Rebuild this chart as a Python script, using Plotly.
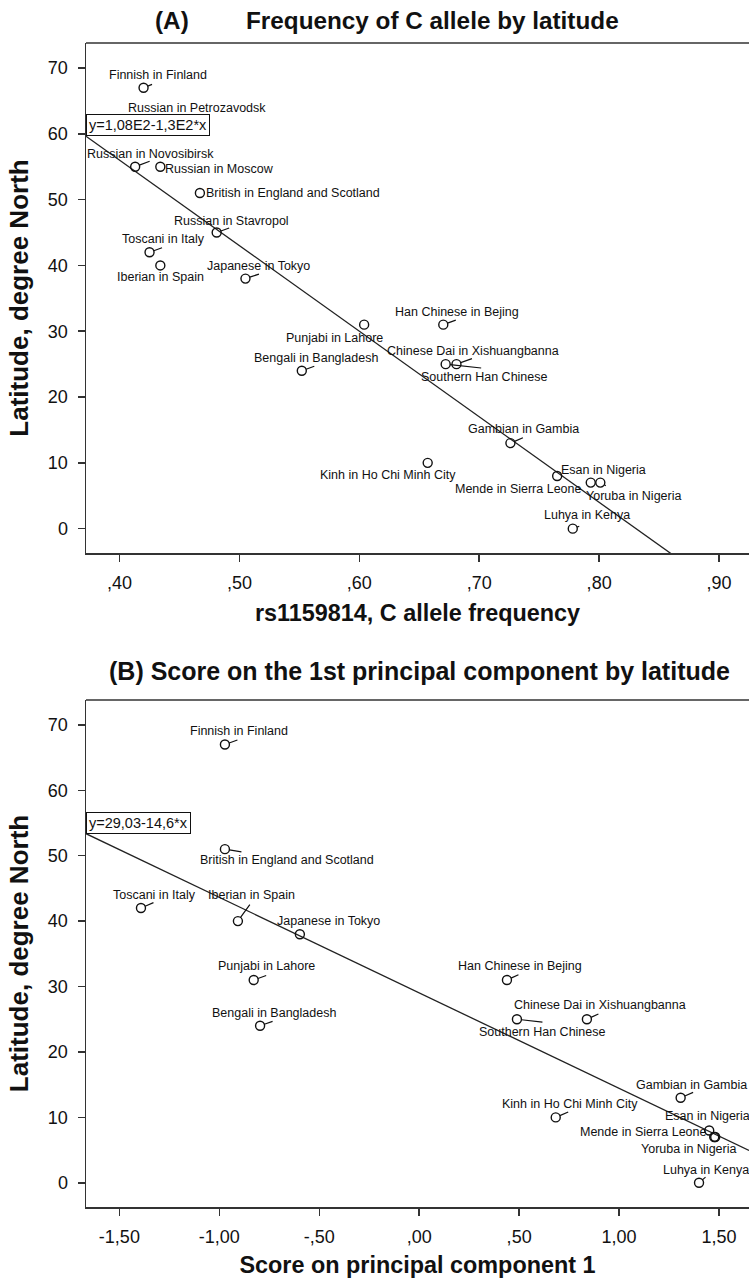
import numpy as np
import plotly.graph_objects as go

# ---------------- data ----------------
pops_a = ["Finnish in Finland", "Russian in Petrozavodsk", "Russian in Novosibirsk", "Russian in Moscow",
          "British in England and Scotland", "Russian in Stavropol", "Toscani in Italy", "Iberian in Spain",
          "Japanese in Tokyo", "Punjabi in Lahore", "Han Chinese in Bejing", "Bengali in Bangladesh",
          "Chinese Dai in Xishuangbanna", "Southern Han Chinese", "Gambian in Gambia",
          "Kinh in Ho Chi Minh City", "Mende in Sierra Leone", "Esan in Nigeria", "Yoruba in Nigeria",
          "Luhya in Kenya"]
lat_a = [67, 62, 55, 55, 51, 45, 42, 40, 38, 31, 31, 24, 25, 25, 13, 10, 8, 7, 7, 0]
freq_c = [0.420, 0.442, 0.413, 0.434, 0.467, 0.481, 0.425, 0.434, 0.505, 0.604, 0.670, 0.552,
          0.681, 0.672, 0.726, 0.657, 0.765, 0.793, 0.801, 0.778]

pops_b = ["Finnish in Finland", "British in England and Scotland", "Toscani in Italy", "Iberian in Spain",
          "Japanese in Tokyo", "Punjabi in Lahore", "Han Chinese in Bejing", "Bengali in Bangladesh",
          "Chinese Dai in Xishuangbanna", "Southern Han Chinese", "Gambian in Gambia",
          "Kinh in Ho Chi Minh City", "Mende in Sierra Leone", "Esan in Nigeria", "Yoruba in Nigeria",
          "Luhya in Kenya"]
lat_b = [67, 51, 42, 40, 38, 31, 31, 24, 25, 25, 13, 10, 8, 7, 7, 0]
pc1 = [-0.972, -0.972, -1.392, -0.907, -0.597, -0.828, 0.439, -0.796, 0.839, 0.489, 1.308,
       0.683, 1.451, 1.476, 1.481, 1.400]

fit_a = (108.0, -130.0)     # intercept, slope (as printed)
fit_b = (29.03, -14.6)
eq_a = "y=1,08E2-1,3E2*x"
eq_b = "y=29,03-14,6*x"

xa_tickvals = [0.40, 0.50, 0.60, 0.70, 0.80, 0.90]
xa_ticktext = [",40", ",50", ",60", ",70", ",80", ",90"]
xb_tickvals = [-1.5, -1.0, -0.5, 0.0, 0.5, 1.0, 1.5]
xb_ticktext = ["-1,50", "-1,00", "-,50", ",00", ",50", "1,00", "1,50"]
y_tickvals = [0, 10, 20, 30, 40, 50, 60, 70]
y_ticktext = ["0", "10", "20", "30", "40", "50", "60", "70"]

# ---------------- label placement (pixel offsets: dx, dy(down), anchor, leader dx, leader dy) ----------------
place_a = {
    "Finnish in Finland": (14, -13, "center", 10, -4),
    "Russian in Petrozavodsk": (27, -13, "center", None, None),
    "Russian in Novosibirsk": (15, -13, "center", 16, -6),
    "Russian in Moscow": (3, 2, "left", None, None),
    "British in England and Scotland": (4, 0, "left", None, None),
    "Russian in Stavropol": (15, -12, "center", 14, -5),
    "Toscani in Italy": (14, -13, "center", 14, -5),
    "Iberian in Spain": (0, 12, "center", None, None),
    "Japanese in Tokyo": (13, -13, "center", 15, -5),
    "Punjabi in Lahore": (-30, 13, "center", None, None),
    "Han Chinese in Bejing": (14, -13, "center", 14, -5),
    "Bengali in Bangladesh": (14, -13, "center", 14, -5),
    "Chinese Dai in Xishuangbanna": (17, -13, "center", 17, -6),
    "Southern Han Chinese": (39, 13, "center", 37, 4),
    "Gambian in Gambia": (13, -14, "center", 14, -6),
    "Kinh in Ho Chi Minh City": (-40, 12, "center", None, None),
    "Mende in Sierra Leone": (-39, 13, "center", None, None),
    "Esan in Nigeria": (13, -13, "center", None, None),
    "Yoruba in Nigeria": (33, 13, "center", 7, 4),
    "Luhya in Kenya": (14, -14, "center", 8, -3),
}
place_b = {
    "Finnish in Finland": (14, -13, "center", 14, -5),
    "British in England and Scotland": (62, 11, "center", 18, 3),
    "Toscani in Italy": (14, -13, "center", 14, -6),
    "Iberian in Spain": (14, -26, "center", 13, -18),
    "Japanese in Tokyo": (29, -13, "center", None, None),
    "Punjabi in Lahore": (13, -14, "center", 14, -5),
    "Han Chinese in Bejing": (13, -14, "center", 13, -6),
    "Bengali in Bangladesh": (14, -13, "center", 14, -5),
    "Chinese Dai in Xishuangbanna": (13, -14, "center", 13, -6),
    "Southern Han Chinese": (26, 13, "center", 27, 3),
    "Gambian in Gambia": (11, -13, "center", 14, -6),
    "Kinh in Ho Chi Minh City": (14, -13, "center", 14, -6),
    "Mende in Sierra Leone": (-66, 2, "center", None, None),
    "Esan in Nigeria": (-7, -21, "center", None, None),
    "Yoruba in Nigeria": (-27, 12, "center", None, None),
    "Luhya in Kenya": (7, -13, "center", 8, -7),
}

FONT = "Liberation Sans, Arial, sans-serif"
W, H = 749, 1278
ML, MR, MT, MB = 86, 0, 43, 71
PW, PH = W - ML - MR, H - MT - MB
xa_range = [0.372, 0.925]
xb_range = [-1.667, 1.650]
y_range = [-3.7, 73.8]


def paper_x(px):
    return (px - ML) / PW


def paper_y(py):
    return (H - MB - py) / PH


dom_a = [paper_y(553), 1.0]
dom_b = [0.0, paper_y(700)]

fig = go.Figure()

# regression lines
for (xr, fit, xref, yref) in [(xa_range, fit_a, "x", "y"), (xb_range, fit_b, "x2", "y2")]:
    xl = np.array(xr)
    yl = fit[0] + fit[1] * xl
    fig.add_trace(go.Scatter(x=xl, y=yl, mode="lines", xaxis=xref, yaxis=yref,
                             line=dict(color="#222222", width=1.3), showlegend=False, hoverinfo="skip"))

# points
fig.add_trace(go.Scatter(x=freq_c, y=lat_a, mode="markers", xaxis="x", yaxis="y", text=pops_a,
                         marker=dict(symbol="circle-open", size=9, color="#111111", line=dict(width=1.4)),
                         showlegend=False))
fig.add_trace(go.Scatter(x=pc1, y=lat_b, mode="markers", xaxis="x2", yaxis="y2", text=pops_b,
                         marker=dict(symbol="circle-open", size=9, color="#111111", line=dict(width=1.4)),
                         showlegend=False))

annotations = []


def add_labels(names, xs, ys, place, xref, yref):
    for n, xv, yv in zip(names, xs, ys):
        dx, dy, anc, lx, ly = place[n]
        annotations.append(dict(x=xv, y=yv, xref=xref, yref=yref, text=n, showarrow=False,
                                xanchor=anc, yanchor="middle", xshift=dx, yshift=-dy,
                                font=dict(family=FONT, size=12.5, color="#111111")))
        if lx is not None:
            annotations.append(dict(x=xv, y=yv, xref=xref, yref=yref, text="", showarrow=True,
                                    arrowhead=0, arrowwidth=1.2, arrowcolor="#111111",
                                    ax=lx, ay=ly, standoff=4.5))


add_labels(pops_a, freq_c, lat_a, place_a, "x", "y")
add_labels(pops_b, pc1, lat_b, place_b, "x2", "y2")

# equation boxes
for (xr, fit, txt, xref, yref) in [(xa_range, fit_a, eq_a, "x", "y"), (xb_range, fit_b, eq_b, "x2", "y2")]:
    x0 = xr[0]
    annotations.append(dict(x=x0, y=fit[0] + fit[1] * x0, xref=xref, yref=yref, text=txt,
                            showarrow=False, xanchor="left", yanchor="bottom", bgcolor="white",
                            bordercolor="#111111", borderwidth=1, borderpad=2,
                            font=dict(family=FONT, size=14.5, color="#111111")))

# titles
tfont_a = dict(family=FONT, size=24.3, color="#111111")
tfont_b = dict(family=FONT, size=25, color="#111111")
annotations.append(dict(x=paper_x(172), y=paper_y(20), xref="paper", yref="paper", text="<b>(A)</b>",
                        showarrow=False, xanchor="center", yanchor="middle", font=tfont_a))
annotations.append(dict(x=paper_x(432), y=paper_y(20), xref="paper", yref="paper",
                        text="<b>Frequency of C allele by latitude</b>",
                        showarrow=False, xanchor="center", yanchor="middle", font=tfont_a))
annotations.append(dict(x=paper_x(419), y=paper_y(671), xref="paper", yref="paper",
                        text="<b>(B) Score on the 1st principal component by latitude</b>",
                        showarrow=False, xanchor="center", yanchor="middle", font=tfont_b))

axis_common = dict(showline=True, linecolor="#333333", linewidth=1.5, ticks="outside", ticklen=7,
                   tickwidth=1.5, tickcolor="#333333", showgrid=False, zeroline=False,
                   tickfont=dict(family=FONT, size=18, color="#111111"), ticklabelstandoff=6)

xtitle_font = dict(family=FONT, size=23.4, color="#111111")
ytitle_font = dict(family=FONT, size=26, color="#111111")

fig.update_layout(
    width=W, height=H, autosize=False,
    margin=dict(l=ML, r=MR, t=MT, b=MB, pad=0),
    paper_bgcolor="white", plot_bgcolor="white",
    font=dict(family=FONT, color="#111111"),
    hovermode=False,
    xaxis=dict(domain=[0, 1], anchor="y", range=xa_range, tickvals=xa_tickvals, ticktext=xa_ticktext,
               title=dict(text="<b>rs1159814, C allele frequency</b>", font=xtitle_font, standoff=12),
               **axis_common),
    yaxis=dict(domain=dom_a, anchor="x", range=y_range, tickvals=y_tickvals, ticktext=y_ticktext,
               title=dict(text="<b>Latitude, degree North</b>", font=ytitle_font, standoff=12),
               **axis_common),
    xaxis2=dict(domain=[0, 1], anchor="y2", range=xb_range, tickvals=xb_tickvals, ticktext=xb_ticktext,
                title=dict(text="<b>Score on principal component 1</b>", font=xtitle_font, standoff=12),
                **axis_common),
    yaxis2=dict(domain=dom_b, anchor="x2", range=y_range, tickvals=y_tickvals, ticktext=y_ticktext,
                title=dict(text="<b>Latitude, degree North</b>", font=ytitle_font, standoff=12),
                **axis_common),
    annotations=annotations,
    shapes=[
        dict(type="line", xref="x domain", yref="y domain", x0=0, x1=1, y0=1, y1=1,
             line=dict(color="#333333", width=1.5)),
        dict(type="line", xref="x2 domain", yref="y2 domain", x0=0, x1=1, y0=1, y1=1,
             line=dict(color="#333333", width=1.5)),
    ],
)

fig.write_html("out.html", config={"displayModeBar": False, "staticPlot": True},
               post_script="document.body.style.margin='0px';document.body.style.overflow='hidden';")
